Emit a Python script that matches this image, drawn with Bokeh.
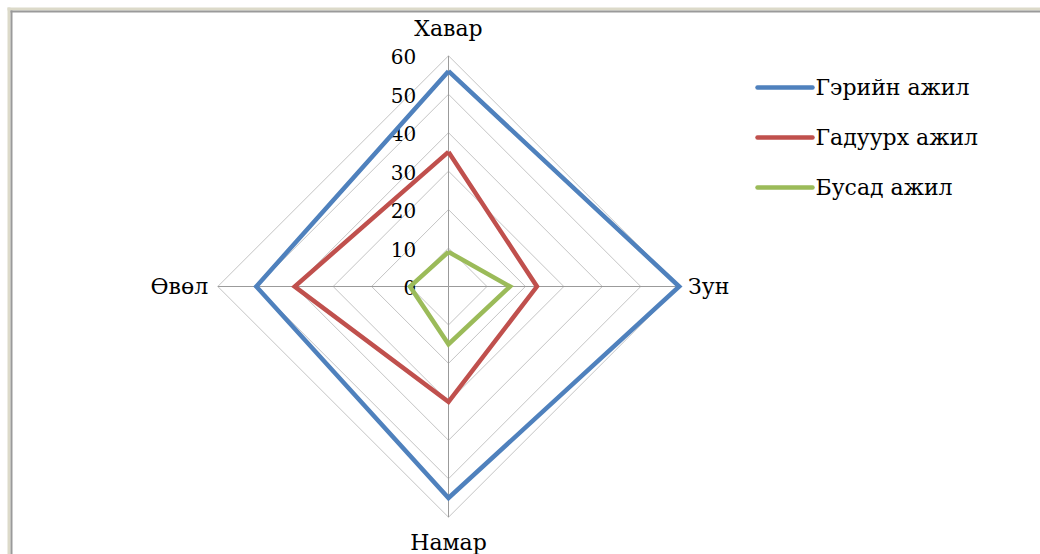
import numpy as np
from bokeh.plotting import figure
from bokeh.models import Range1d
from bokeh.core.properties import value
from bokeh.embed import file_html
from bokeh.resources import INLINE

categories = ["Хавар", "Зун", "Намар", "Өвөл"]
series_names = ["Гэрийн ажил", "Гадуурх ажил", "Бусад ажил"]
home_work = [56, 60, 55, 50]
outside_work = [35, 23, 30, 40]
other_work = [9, 16, 15, 10]
tick_values = [0, 10, 20, 30, 40, 50, 60]
tick_labels = ["0", "10", "20", "30", "40", "50", "60"]

colors = ["#4f81bd", "#c0504d", "#9bbb59"]
FONT = "'DejaVu Serif', serif"

W, H = 1040, 554
S = 3.845          # px per unit
CX, CY = 448, 286  # centre in figure px

def X(px):
    return (px - CX) / S

def Y(py):
    return (CY - py) / S

p = figure(width=W, height=H, output_backend="svg", toolbar_location=None,
           x_range=Range1d(X(0), X(W)), y_range=Range1d(Y(H), Y(0)),
           min_border=0, min_border_left=0, min_border_right=0,
           min_border_top=0, min_border_bottom=0)
p.axis.visible = False
p.grid.visible = False
p.outline_line_color = None
p.background_fill_color = "white"
p.border_fill_color = "white"

# window frame decoration (top/left edge of the original screenshot)
p.quad(left=[X(7)], right=[X(W + 5)], top=[Y(7)], bottom=[Y(10)], fill_color="#dcdac9", line_color=None)
p.quad(left=[X(7)], right=[X(10)], top=[Y(7)], bottom=[Y(H + 5)], fill_color="#dcdac9", line_color=None)
p.quad(left=[X(10)], right=[X(W + 5)], top=[Y(10)], bottom=[Y(12)], fill_color="#9a9a9a", line_color=None)
p.quad(left=[X(10)], right=[X(12)], top=[Y(10)], bottom=[Y(H + 5)], fill_color="#9a9a9a", line_color=None)

n = len(categories)
angles = np.pi / 2 - 2 * np.pi * np.arange(n) / n  # clockwise from top

def poly(vals):
    v = np.asarray(vals, dtype=float)
    xs = list(v * np.cos(angles)) + [v[0] * np.cos(angles[0])]
    ys = list(v * np.sin(angles)) + [v[0] * np.sin(angles[0])]
    return xs, ys

# rings
for t in tick_values[1:]:
    xs, ys = poly([t] * n)
    p.line(xs, ys, line_color="#c4c4c4", line_width=1)
# spokes
rmax = tick_values[-1]
for a in angles:
    p.line([0, rmax * np.cos(a)], [0, rmax * np.sin(a)], line_color="#9b9b9b", line_width=1)

# tick labels
p.text(x=[-8.4] * len(tick_values), y=[v - 0.3 for v in tick_values], text=tick_labels,
       text_font=value(FONT), text_font_size="20px", text_color="black",
       text_align="right", text_baseline="middle")

# category labels
lab_r = [67.0, 62.3, 66.5, 62.5]
aligns = ["center", "left", "center", "right"]
for c, a, r, al in zip(categories, angles, lab_r, aligns):
    p.text(x=[r * np.cos(a)], y=[r * np.sin(a)], text=[c], text_font=value(FONT),
           text_font_size="22px", text_color="black", text_align=al, text_baseline="middle")

# series
for vals, col in zip([home_work, outside_work, other_work], colors):
    xs, ys = poly(vals)
    p.line(xs, ys, line_color=col, line_width=4.5, line_join="miter")

# legend
leg_y = [87, 137, 187]
for name, col, ly in zip(series_names, colors, leg_y):
    p.line([X(757), X(812)], [Y(ly), Y(ly)], line_color=col, line_width=4.5, line_cap="round")
    p.text(x=[X(815)], y=[Y(ly)], text=[name], text_font=value(FONT), text_font_size="22px",
           text_color="black", text_align="left", text_baseline="middle")

open("out.html", "w").write(file_html(p, INLINE))
